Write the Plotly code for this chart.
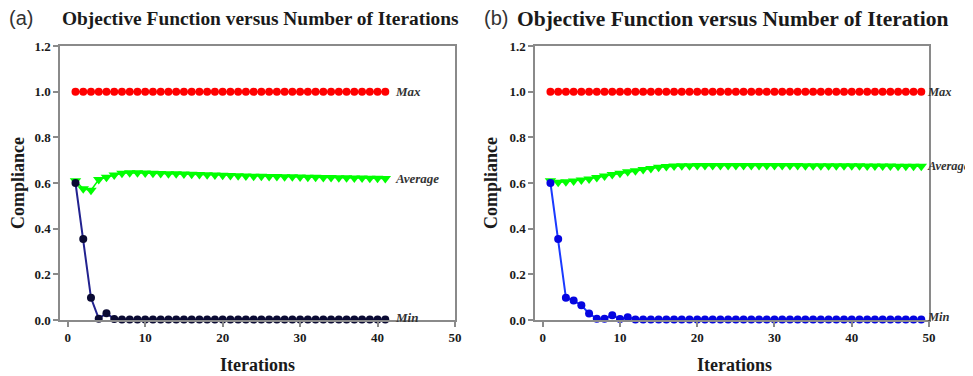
import plotly.graph_objects as go

# ---- data ----
iters_a = list(range(1, 42))
max_a = [1.0] * 41
avg_a = [0.61, 0.575, 0.568, 0.615, 0.625, 0.635, 0.643, 0.645, 0.645, 0.644,
         0.643, 0.642, 0.641, 0.640, 0.639, 0.638, 0.637, 0.636, 0.635, 0.634,
         0.633, 0.632, 0.631, 0.630, 0.630, 0.629, 0.628, 0.627, 0.627, 0.626,
         0.625, 0.625, 0.624, 0.624, 0.623, 0.623, 0.622, 0.622, 0.621, 0.621, 0.620]
min_a = [0.60, 0.355, 0.097, 0.006, 0.03, 0.004] + [0.002] * 35

iters_b = list(range(1, 50))
max_b = [1.0] * 49
avg_b = [0.61, 0.603, 0.605, 0.609, 0.613, 0.618, 0.624, 0.631, 0.637, 0.643,
         0.649, 0.654, 0.659, 0.664, 0.669, 0.672, 0.674, 0.675, 0.676, 0.677,
         0.677, 0.677, 0.677, 0.677, 0.677, 0.677, 0.677, 0.677, 0.677, 0.677,
         0.677, 0.677, 0.677, 0.676, 0.676, 0.676, 0.676, 0.675, 0.675, 0.675,
         0.675, 0.674, 0.674, 0.674, 0.674, 0.673, 0.673, 0.673, 0.673]
min_b = [0.60, 0.355, 0.097, 0.085, 0.065, 0.028, 0.006, 0.005, 0.021, 0.004,
         0.012] + [0.002] * 38

x_ticks = [0, 10, 20, 30, 40, 50]
y_ticks = [0.0, 0.2, 0.4, 0.6, 0.8, 1.0, 1.2]
y_tick_text = ["0.0", "0.2", "0.4", "0.6", "0.8", "1.0", "1.2"]

SERIF = "Liberation Serif, Times New Roman, serif"
SANS = "Liberation Sans, Arial, sans-serif"
AX_COL = "#8a8a8a"
TXT = "#1a1a1a"
OFF = 8                      # page body margin
W, H = 973 - OFF, 376 - OFF

fig = go.Figure()

def add_panel(xs, mx, av, mn, xa, ya, min_line, min_marker):
    fig.add_trace(go.Scatter(x=xs, y=mx, mode="lines+markers", xaxis=xa, yaxis=ya,
                             line=dict(color="#ff0000", width=1.5),
                             marker=dict(symbol="circle", size=8, color="#ff0000"),
                             cliponaxis=False, showlegend=False))
    fig.add_trace(go.Scatter(x=xs, y=av, mode="lines+markers", xaxis=xa, yaxis=ya,
                             line=dict(color="#00ff00", width=1.5),
                             marker=dict(symbol="triangle-down", size=10, color="#00ff00"),
                             cliponaxis=False, showlegend=False))
    fig.add_trace(go.Scatter(x=xs, y=mn, mode="lines+markers", xaxis=xa, yaxis=ya,
                             line=dict(color=min_line, width=2),
                             marker=dict(symbol="circle", size=8, color=min_marker),
                             cliponaxis=False, showlegend=False))

add_panel(iters_a, max_a, avg_a, min_a, "x", "y", "#22228f", "#0a0a33")
add_panel(iters_b, max_b, avg_b, min_b, "x2", "y2", "#1a3aff", "#0505e0")

def P(x, y):
    return (x - OFF) / W, 1 - (y - OFF) / H

px = [(60, 455), (535, 929)]
py = (46, 320)
xdoms = [[P(a, 0)[0], P(b, 0)[0]] for a, b in px]
ydom = [P(0, py[1])[1], P(0, py[0])[1]]

for i, name in enumerate(["", "2"]):
    fig.layout["xaxis" + name] = dict(
        domain=xdoms[i], range=[-1, 50], anchor="y" + name, automargin=False,
        tickvals=x_ticks, ticks="outside", ticklen=5, tickcolor=AX_COL, tickwidth=1.5,
        showline=True, linecolor=AX_COL, linewidth=1.5, mirror=True,
        showgrid=False, zeroline=False,
        tickfont=dict(family=SERIF, size=13, color=TXT, weight="bold"))
    fig.layout["yaxis" + name] = dict(
        domain=ydom, range=[0, 1.2], anchor="x" + name, automargin=False,
        tickvals=y_ticks, ticktext=y_tick_text, ticks="outside", ticklen=5,
        tickcolor=AX_COL, tickwidth=1.5,
        showline=True, linecolor=AX_COL, linewidth=1.5, mirror=True,
        showgrid=False, zeroline=False,
        tickfont=dict(family=SERIF, size=13, color=TXT, weight="bold"))

ann = []
# panel titles
for lab, xl, ttl, xt, fs in [("(a)", 7, "Objective Function versus Number of Iterations", 60, 19.4),
                             ("(b)", 482, "Objective Function versus Number of Iteration", 515, 21.5)]:
    x0, y0 = P(xl, 18)
    ann.append(dict(text=lab, x=x0, y=y0, xref="paper", yref="paper",
                    xanchor="left", yanchor="middle", showarrow=False,
                    font=dict(family=SANS, size=20, color="#333")))
    x1, y1 = P(xt, 19)
    ann.append(dict(text="<b>" + ttl + "</b>", x=x1, y=y1, xref="paper", yref="paper",
                    xanchor="left", yanchor="middle", showarrow=False,
                    font=dict(family=SERIF, size=fs, color=TXT)))

# axis titles
for xc, yc in [(18, 183), (491, 183)]:
    x0, y0 = P(xc, yc)
    ann.append(dict(text="<b>Compliance</b>", x=x0, y=y0, xref="paper", yref="paper",
                    xanchor="center", yanchor="middle", showarrow=False, textangle=-90,
                    font=dict(family=SERIF, size=18, color=TXT)))
for xc in [258, 734]:
    x0, y0 = P(xc, 365)
    ann.append(dict(text="<b>Iterations</b>", x=x0, y=y0, xref="paper", yref="paper",
                    xanchor="center", yanchor="middle", showarrow=False,
                    font=dict(family=SERIF, size=18, color=TXT)))

# series labels
labels = ["Max", "Average", "Min"]
for (xa, ya, xs, fs, series) in [("x", "y", 42.0, 13, (max_a[-1], avg_a[-1], min_a[-1] + 0.01)),
                                 ("x2", "y2", 49.5, 12.5, (max_b[-1], avg_b[-1], min_b[-1] + 0.01))]:
    for lab, v in zip(labels, series):
        ann.append(dict(text="<b><i>" + lab + "</i></b>", x=xs, y=v, xref=xa, yref=ya,
                        xanchor="left", yanchor="middle", showarrow=False,
                        font=dict(family=SERIF, size=fs, color="#333")))

fig.update_layout(width=W, height=H, margin=dict(l=0, r=0, t=0, b=0),
                  template="none",
                  paper_bgcolor="white", plot_bgcolor="white", annotations=ann)

fig.write_html("out.html")
